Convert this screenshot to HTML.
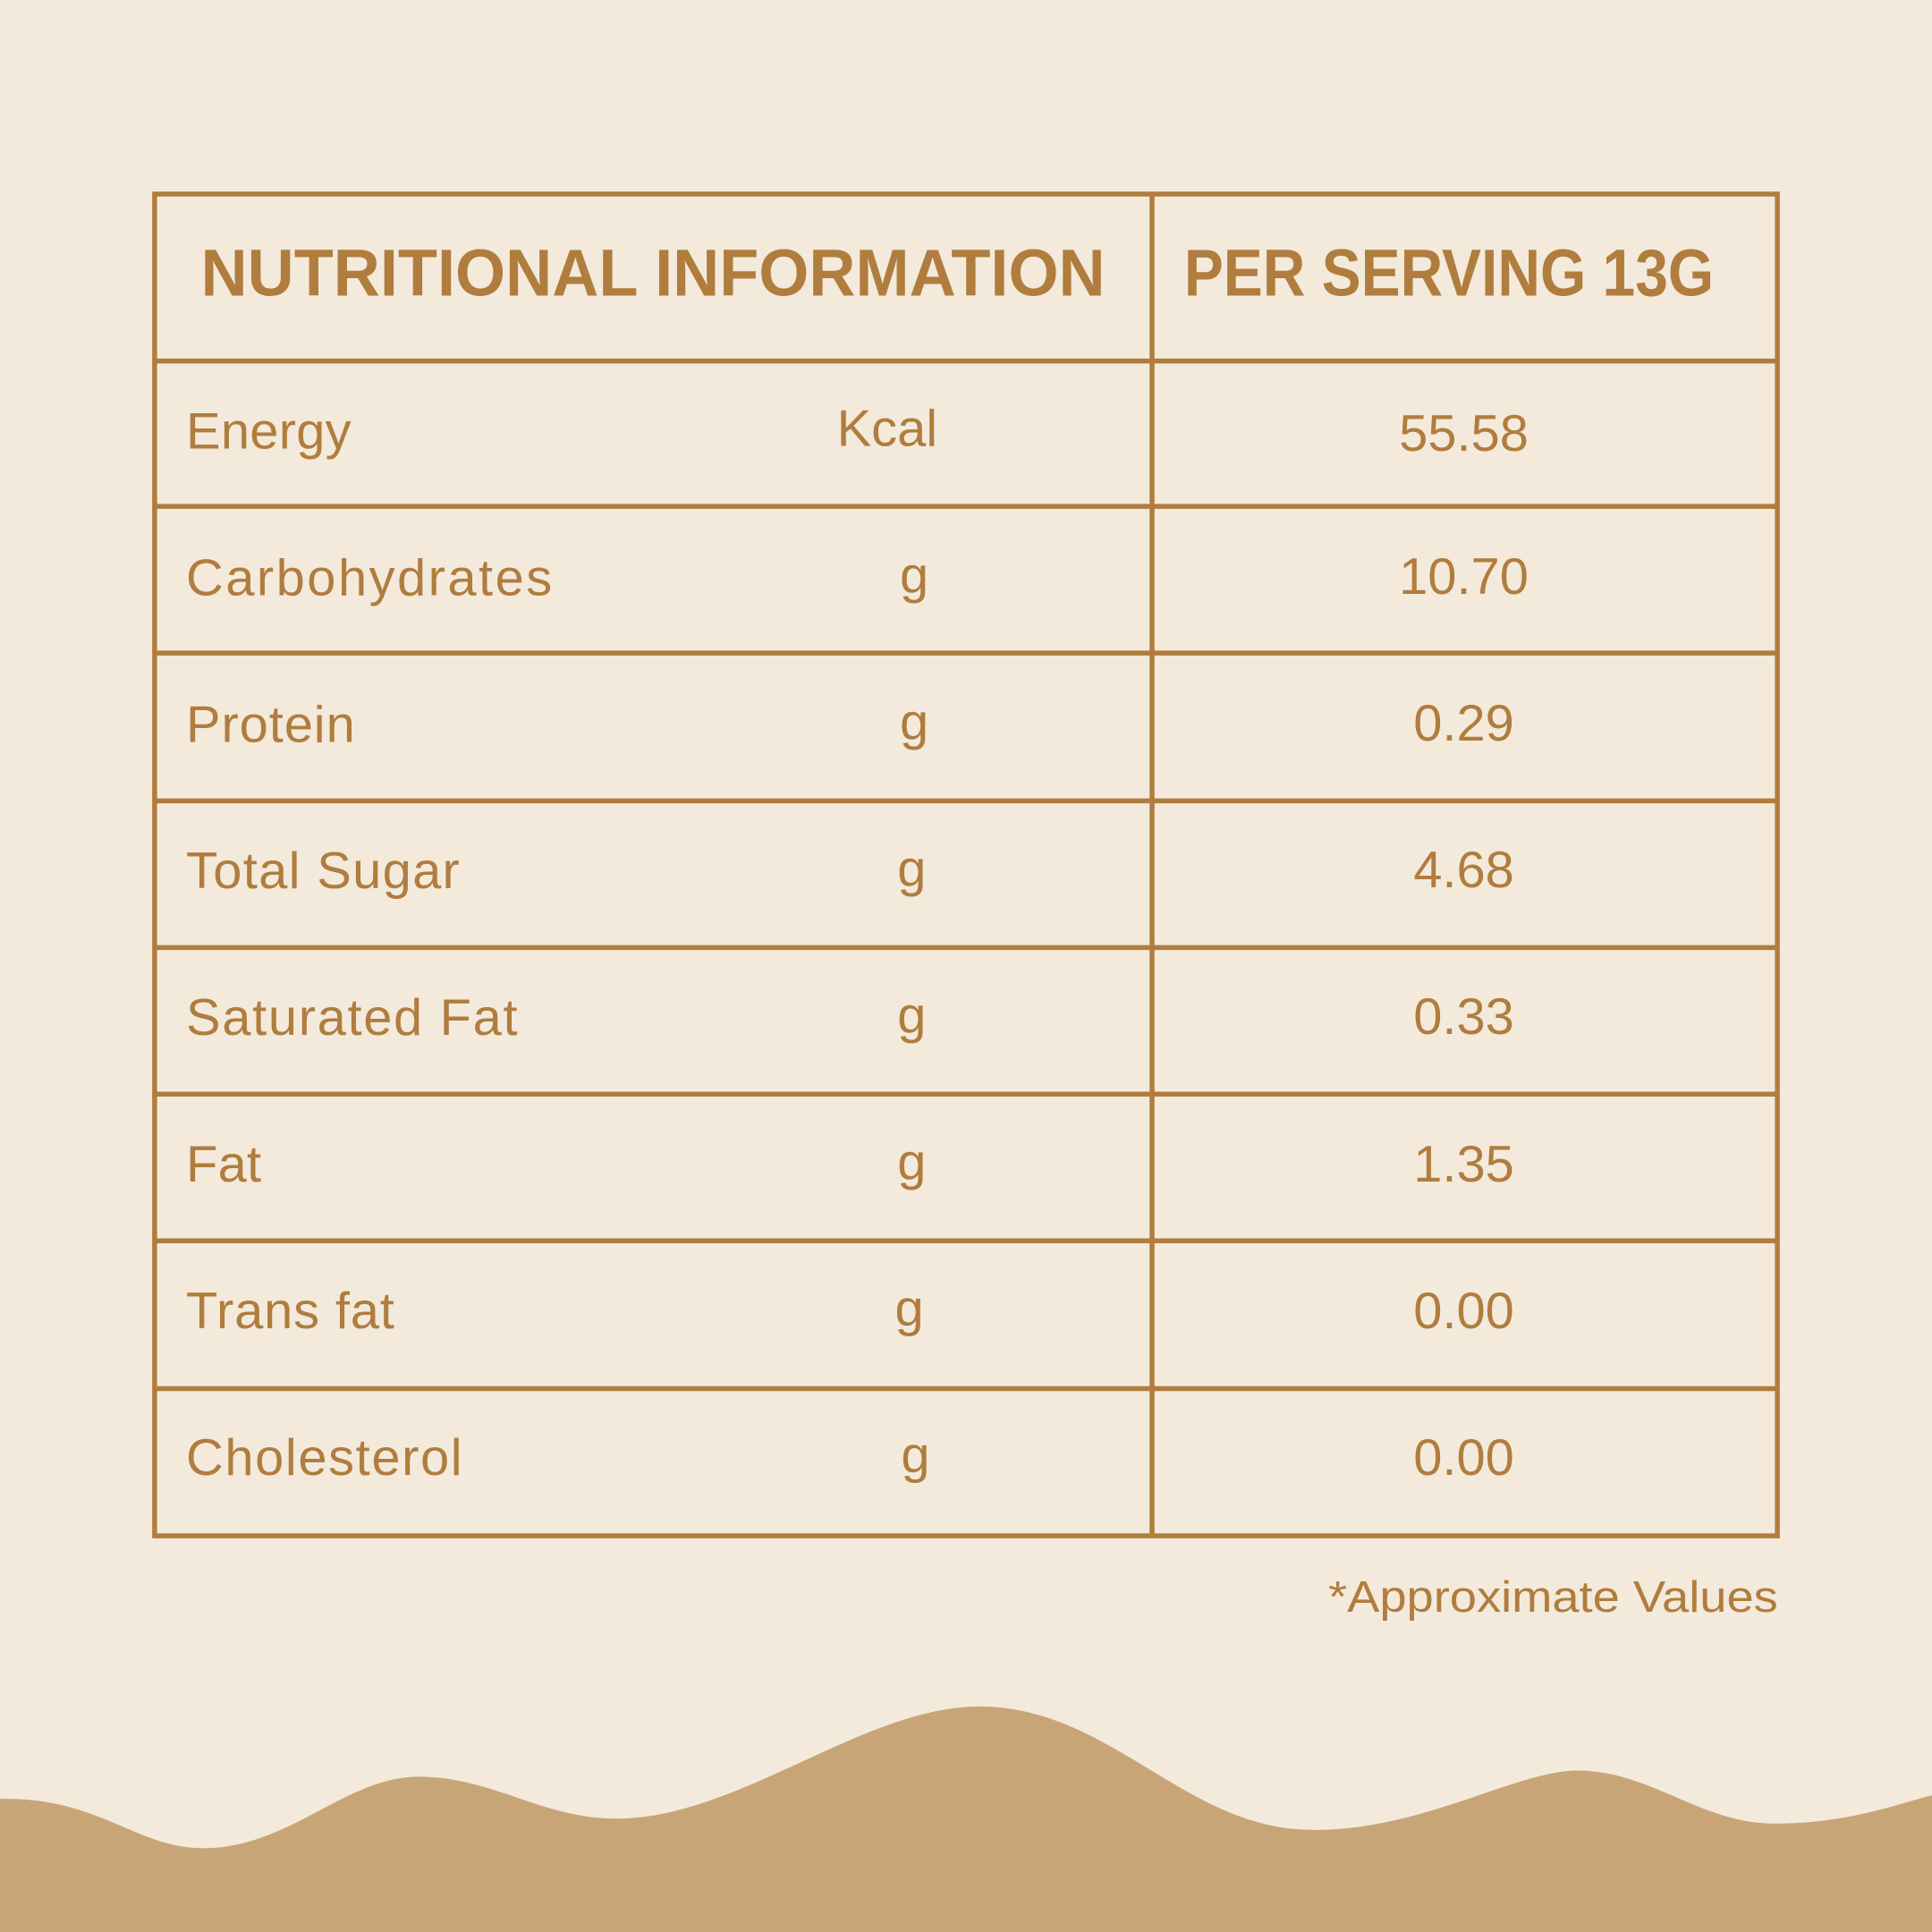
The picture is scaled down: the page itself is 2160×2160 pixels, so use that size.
<!DOCTYPE html>
<html><head><meta charset="utf-8"><style>
html,body{margin:0;padding:0;background:#F3EADC;}
svg{display:block;}
text{font-family:"Liberation Sans",sans-serif;fill:#B07D3E;}
</style></head><body>
<svg width="2160" height="2160" viewBox="0 0 1568 1568" xmlns="http://www.w3.org/2000/svg">
<rect width="1568" height="1568" fill="#F3EADC"/>
<path d="M0,1460 C80,1458 110,1500 165,1500 C235,1500 280,1442 340,1442 C400,1442 440,1476 500,1476 C600,1476 700,1385 795,1385 C900,1385 960,1482 1060,1485 C1150,1488 1230,1437 1280,1437 C1340,1437 1380,1480 1440,1480 C1500,1480 1540,1464 1568,1457 L1568,1568 L0,1568 Z" fill="#C8A577"/>
<g stroke="#B07D3E" stroke-width="4" fill="none">
<rect x="125.5" y="157.5" width="1317" height="1089"/>
<line x1="935" y1="157" x2="935" y2="1247"/>
<line x1="125" y1="293" x2="1443" y2="293"/>
<line x1="125" y1="411" x2="1443" y2="411"/>
<line x1="125" y1="530" x2="1443" y2="530"/>
<line x1="125" y1="650" x2="1443" y2="650"/>
<line x1="125" y1="769" x2="1443" y2="769"/>
<line x1="125" y1="888" x2="1443" y2="888"/>
<line x1="125" y1="1007" x2="1443" y2="1007"/>
<line x1="125" y1="1127" x2="1443" y2="1127"/>
</g>
<text x="163" y="240" font-size="54" font-weight="bold" textLength="734" lengthAdjust="spacingAndGlyphs">NUTRITIONAL INFORMATION</text>
<text x="961" y="240" font-size="54" font-weight="bold" textLength="430" lengthAdjust="spacingAndGlyphs">PER SERVING 13G</text>
<g font-size="42" lengthAdjust="spacingAndGlyphs">
<text x="151" y="364" textLength="134">Energy</text>
<text x="151" y="483" textLength="297">Carbohydrates</text>
<text x="151" y="602" textLength="137">Protein</text>
<text x="151" y="721" textLength="222">Total Sugar</text>
<text x="151" y="840" textLength="269">Saturated Fat</text>
<text x="151" y="959" textLength="61">Fat</text>
<text x="151" y="1078" textLength="169">Trans fat</text>
<text x="151" y="1197" textLength="224">Cholesterol</text>
</g>
<g font-size="42" text-anchor="middle">
<text x="720" y="362">Kcal</text>
<text x="742" y="481">g</text>
<text x="742" y="600">g</text>
<text x="740" y="719">g</text>
<text x="740" y="838">g</text>
<text x="740" y="957">g</text>
<text x="738" y="1076">g</text>
<text x="743" y="1195">g</text>
<text x="1188" y="366">55.58</text>
<text x="1188" y="482">10.70</text>
<text x="1188" y="601">0.29</text>
<text x="1188" y="720">4.68</text>
<text x="1188" y="839">0.33</text>
<text x="1188" y="959">1.35</text>
<text x="1188" y="1078">0.00</text>
<text x="1188" y="1197">0.00</text>
</g>
<text x="1078" y="1308" font-size="36" textLength="365" lengthAdjust="spacingAndGlyphs">*Approximate Values</text>
</svg>
</body></html>
